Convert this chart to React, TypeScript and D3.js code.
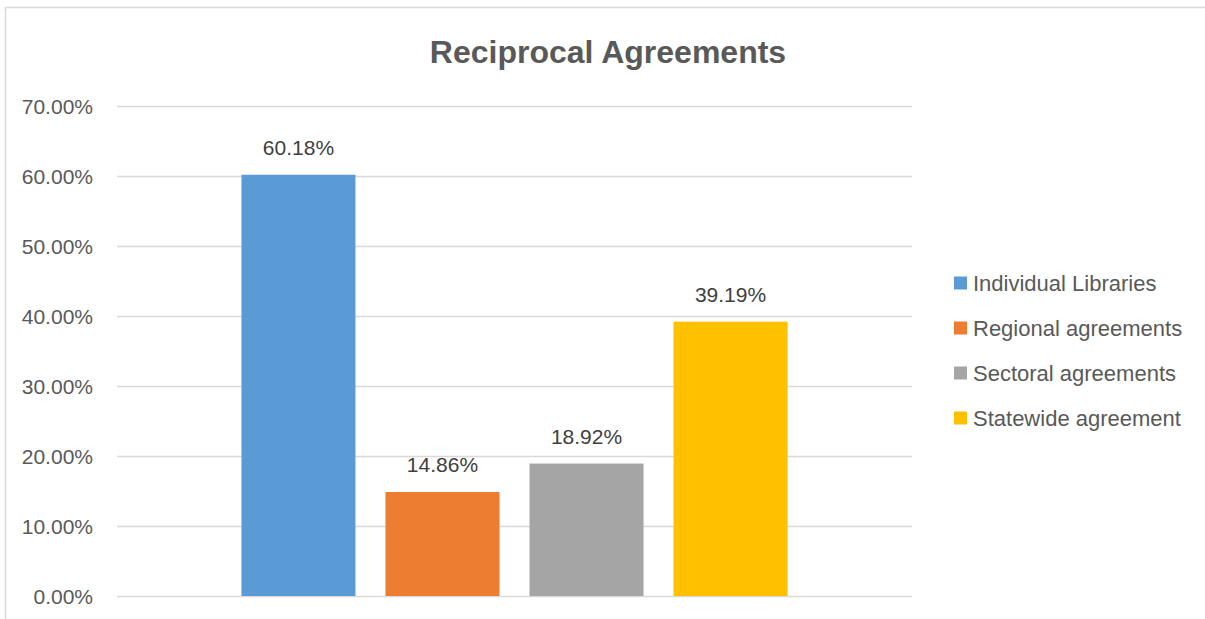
// react
import { useEffect, useRef } from "react";

// d3
import * as d3 from "d3";

const SERIES = [
  "Individual Libraries",
  "Regional agreements",
  "Sectoral agreements",
  "Statewide agreement",
];
const VALUES = [0.6018, 0.1486, 0.1892, 0.3919];
const COLORS = ["#5B9BD5", "#ED7D31", "#A5A5A5", "#FFC000"];
const Y_TICKS = [0, 0.1, 0.2, 0.3, 0.4, 0.5, 0.6, 0.7];
const TITLE = "Reciprocal Agreements";

const FONT = "'Liberation Sans', Arial, sans-serif";
const TEXT = "#595959";
const GRID = "#D9D9D9";

export default function App() {
  // useRef
  const ref = useRef<SVGSVGElement>(null);

  // useEffect
  useEffect(() => {
    if (!ref.current) return;
    const svg = d3.select(ref.current);
    svg.selectAll("*").remove();

    const W = 1205;
    const H = 619;
    const plot = { left: 117, right: 912, top: 106, bottom: 596 };

    svg.attr("width", W).attr("height", H).attr("viewBox", `0 0 ${W} ${H}`);

    // Chart border (cropped on right and bottom)
    svg
      .append("rect")
      .attr("x", 5.5)
      .attr("y", 7.5)
      .attr("width", W + 20)
      .attr("height", H + 20)
      .attr("fill", "#fff")
      .attr("stroke", GRID)
      .attr("stroke-width", 1.5);

    const xScale = d3
      .scaleBand()
      .domain(SERIES)
      .range([plot.left, plot.right])
      .paddingInner(0.2083)
      .paddingOuter(0.864);
    const yScale = d3
      .scaleLinear()
      .domain([0, 0.7])
      .range([plot.bottom, plot.top]);

    // Grid
    svg
      .append("g")
      .attr("transform", `translate(${plot.left},0)`)
      .call(
        d3
          .axisLeft(yScale)
          .tickValues(Y_TICKS)
          .tickSize(-(plot.right - plot.left))
          .tickFormat(() => ""),
      )
      .call((a) => {
        a.select(".domain").remove();
        a.selectAll(".tick line")
          .attr("stroke", GRID)
          .attr("stroke-width", 1.5);
      });

    // Y labels
    svg
      .append("g")
      .selectAll("text")
      .data(Y_TICKS)
      .join("text")
      .attr("x", 93)
      .attr("y", (d) => yScale(d) + 7.5)
      .attr("text-anchor", "end")
      .attr("font-family", FONT)
      .attr("font-size", 21)
      .attr("fill", TEXT)
      .text((d) => d3.format(".2%")(d));

    // Bars
    svg
      .append("g")
      .selectAll("rect")
      .data(VALUES)
      .join("rect")
      .attr("x", (_, i) => xScale(SERIES[i]) ?? 0)
      .attr("y", (d) => yScale(d))
      .attr("width", xScale.bandwidth())
      .attr("height", (d) => plot.bottom - yScale(d))
      .attr("fill", (_, i) => COLORS[i]);

    // Data labels
    svg
      .append("g")
      .selectAll("text")
      .data(VALUES)
      .join("text")
      .attr("x", (_, i) => (xScale(SERIES[i]) ?? 0) + xScale.bandwidth() / 2)
      .attr("y", (d) => yScale(d) - 20)
      .attr("text-anchor", "middle")
      .attr("font-family", FONT)
      .attr("font-size", 21)
      .attr("fill", "#404040")
      .text((d) => d3.format(".2%")(d));

    // Title
    svg
      .append("text")
      .attr("x", 608)
      .attr("y", 63)
      .attr("text-anchor", "middle")
      .attr("font-family", FONT)
      .attr("font-weight", "bold")
      .attr("font-size", 32)
      .attr("fill", TEXT)
      .text(TITLE);

    // Legend
    const legend = svg
      .append("g")
      .selectAll("g")
      .data(SERIES)
      .join("g")
      .attr("transform", (_, i) => `translate(954,${283 + i * 45})`);
    legend
      .append("rect")
      .attr("x", 0)
      .attr("y", -6.5)
      .attr("width", 13)
      .attr("height", 13)
      .attr("fill", (_, i) => COLORS[i]);
    legend
      .append("text")
      .attr("x", 19)
      .attr("y", 7.5)
      .attr("font-family", FONT)
      .attr("font-size", 22)
      .attr("fill", TEXT)
      .text((d) => d);
  }, []);

  return (
    <svg
      ref={ref}
      style={{ position: "absolute", left: 0, top: 0, display: "block" }}
    />
  );
}
